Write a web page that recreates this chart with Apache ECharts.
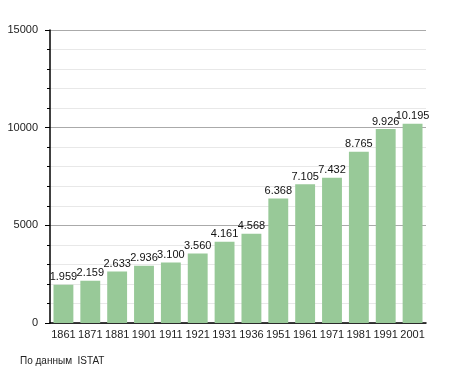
<!DOCTYPE html>
<html><head><meta charset="utf-8">
<script src="https://cdn.jsdelivr.net/npm/echarts@6/dist/echarts.min.js"></script>
<style>html,body{margin:0;padding:0;background:#fff}#c{width:455px;height:373px}</style>
</head><body><div id="c"></div>
<script>
const years = ['1861','1871','1881','1901','1911','1921','1931','1936','1951','1961','1971','1981','1991','2001'];
const population = [1959,2159,2633,2936,3100,3560,4161,4568,6368,7105,7432,8765,9926,10195];
const yTicks = [0,5000,10000,15000];
const sourceText = 'По данным  ISTAT';

function fmt(v){return String(v).replace(/\B(?=(\d{3})+(?!\d))/g,'.');}

const chart = echarts.init(document.getElementById('c'));
chart.setOption({
  animation:false,
  textStyle:{fontFamily:'Liberation Sans, Arial, sans-serif'},
  grid:{left:50,right:29,top:30,bottom:50,containLabel:false},
  xAxis:{type:'category',data:years,
    axisLine:{lineStyle:{color:'#000',width:1.5}},
    axisTick:{show:false},
    axisLabel:{color:'#222',fontSize:11,margin:6,interval:0}},
  yAxis:{type:'value',min:yTicks[0],max:yTicks[yTicks.length-1],interval:5000,
    axisLine:{show:true,lineStyle:{color:'#000',width:1.5}},
    axisTick:{show:true,inside:false,length:5,lineStyle:{color:'#000'}},
    minorTick:{show:true,splitNumber:5,length:3,lineStyle:{color:'#000'}},
    splitLine:{show:true,lineStyle:{color:'#aaa',width:1}},
    minorSplitLine:{show:true,lineStyle:{color:'#e8e8e8',width:1}},
    axisLabel:{color:'#222',fontSize:11,margin:12,formatter:v=>String(v)}},
  series:[{type:'bar',data:population,barCategoryGap:'26%',
    itemStyle:{color:'#98c998'},
    label:{show:true,position:'top',distance:2,color:'#111',fontSize:11,formatter:p=>fmt(p.value)}}],
  graphic:[{type:'text',left:20,top:356,style:{text:sourceText,fontSize:10,fill:'#222',fontFamily:'Liberation Sans, Arial, sans-serif'}}]
});
</script></body></html>
